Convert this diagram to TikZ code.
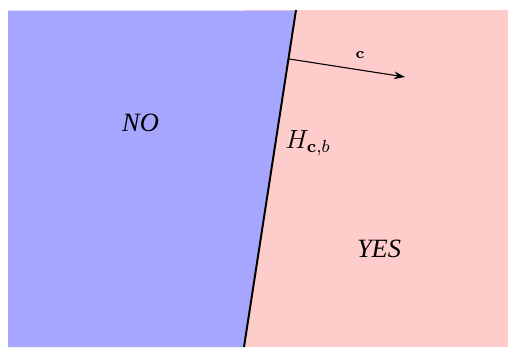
\documentclass[tikz,border=0pt]{standalone}
\usepackage{amsmath,amssymb}
\usepackage[no-math]{fontspec}
\usepackage{tikz}
\usetikzlibrary{positioning,arrows.meta,calc}
\newfontfamily\answerfont{Liberation Serif}[ItalicFont={Liberation Serif Italic}]
\definecolor{nocol}{rgb}{0.651,0.651,1.0}
\definecolor{yescol}{rgb}{1.0,0.8,0.8}

\begin{document}
\begin{tikzpicture}[x=0.4545pt, y=-0.4545pt, answer/.style={font=\fontsize{12}{14}\answerfont\itshape,inner sep=0pt},
  hyper/.style={line width=0.9pt}, normal/.style={line width=0.5pt,-{Stealth[length=5pt,width=3.5pt]}}]
  \useasboundingbox (0,0) rectangle (508,347);
  % half spaces
  \fill[yescol] (243,10) rectangle (508,347);
  \fill[nocol] (8,10.6) -- (296,10.6) -- (244,347) -- (8,347) -- cycle;
  \coordinate (top) at (296,10);
  \coordinate (bot) at (244,347);
  \draw[hyper] (top) -- (bot);
  \coordinate (foot) at ($(top)!0.145!(bot)$);
  \coordinate (tip) at (405,77);
  \draw[normal] (foot) -- (tip);
  \node[font=\fontsize{7}{8}\selectfont] (c) at (360,55) {$\mathbf{c}$};
  \node[font=\fontsize{12}{14}\selectfont,inner sep=0pt,anchor=base west] (H) at (285,149) {$H_{\mathbf{c},b}$};
  \node[answer,anchor=base] (no) at (140.5,132) {NO};
  \node[answer,anchor=base] (yes) at (379,257) {YES};
\end{tikzpicture}
\end{document}
